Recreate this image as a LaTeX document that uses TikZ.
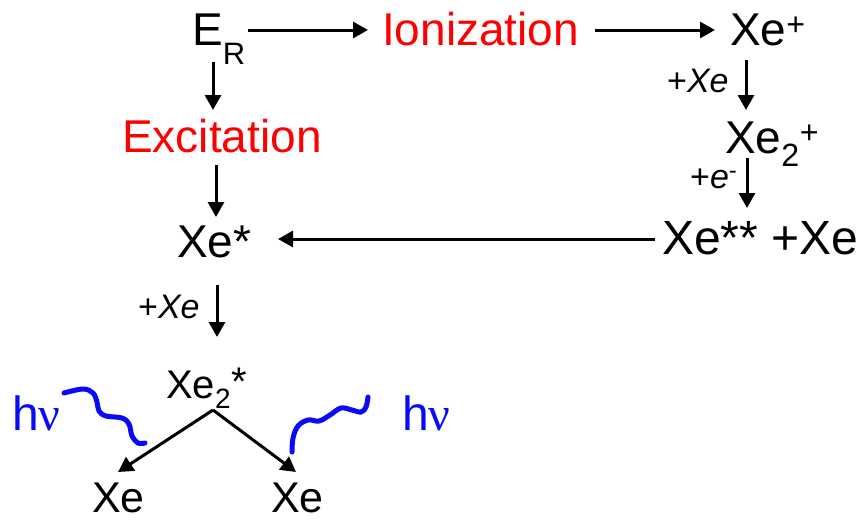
\documentclass[tikz,border=0pt]{standalone}
\usepackage{fontspec}
\setmainfont{Liberation Sans}
\newfontfamily\nufont{Liberation Serif}
\usetikzlibrary{arrows.meta,calc}
\definecolor{myred}{RGB}{255,0,0}
\definecolor{myblue}{RGB}{10,10,250}
\tikzset{
  txt/.style={inner sep=0pt, anchor=base west, font=\fontsize{46}{50}\selectfont},
  redtxt/.style={txt, text=myred},
  lbl/.style={inner sep=0pt, anchor=base west, font=\fontsize{34}{38}\selectfont},
  bot/.style={inner sep=0pt, anchor=base west, font=\fontsize{43}{47}\selectfont},
  photon/.style={inner sep=0pt, anchor=base west, text=myblue, font=\fontsize{48}{52}\selectfont},
  arr/.style={line width=3pt, -{Triangle[length=15pt,width=16pt]}},
  wave/.style={line width=5pt, draw=myblue, line cap=round}
}
\begin{document}
\begin{tikzpicture}[x=1pt,y=-1pt]
\useasboundingbox (0,0) rectangle (861,525);
% nodes
\node[txt] (ER) at (192,45) {E\raisebox{-19pt}{\fontsize{31}{31}\selectfont R}};
\node[redtxt] (ion) at (382,45) {Ionization};
\node[txt] (xep) at (730,45) {Xe\textsuperscript{+}};
\node[txt] (xe2p) at (725,153) {Xe\textsubscript{2}\textsuperscript{+}};
\node[txt, font=\fontsize{48}{52}\selectfont] (xess) at (662,254) {Xe** +Xe};
\node[redtxt] (exc) at (122,152) {Excitation};
\node[txt] (xes) at (177,257) {Xe*};
\node[lbl] (l1) at (667,92) {+\textit{Xe}};
\node[lbl] (l2) at (690,188) {+\textit{e}\textsuperscript{-}};
\node[lbl] (l3) at (138,318) {+\textit{Xe}};
\node[inner sep=0pt, anchor=base west, font=\fontsize{40}{44}\selectfont] (xe2s) at (166,398) {Xe\textsubscript{2}\raisebox{3pt}{*}};
\node[bot] (xeL) at (92,512) {Xe};
\node[bot] (xeR) at (271,512) {Xe};
\node[photon] (hvL) at (12,430) {h{\nufont ν}};
\node[photon] (hvR) at (402,430) {h{\nufont ν}};
% connectors
\draw[arr] ($(ER.base west)+(56,-15)$) -- ($(ion.base west)+(-14,-15)$);
\draw[arr] ($(ion.base west)+(213,-15)$) -- ($(xep.base west)+(-15,-15)$);
\draw[arr] ($(xep.base west)+(16,15)$) -- ($(xe2p.base west)+(21,-43)$);
\draw[arr] ($(xe2p.base west)+(22,5)$) -- ($(xess.base west)+(85,-46)$);
\draw[arr] ($(xess.base west)+(-7,-15)$) -- ($(xes.base west)+(101,-18)$);
\draw[arr] ($(ER.base west)+(21,17)$) -- ($(exc.base west)+(91,-42)$);
\draw[arr] ($(exc.base west)+(94,13)$) -- ($(xes.base west)+(39,-40)$);
\draw[arr] ($(xes.base west)+(40,28)$) -- ($(xe2s.base west)+(51,-61)$);
\coordinate (apex) at ($(xe2s.base west)+(47,12)$);
\draw[arr] (apex) -- ($(xeL.base west)+(26,-40)$);
\draw[arr] (apex) -- ($(xeR.base west)+(25,-40)$);
% photon waves
\draw[wave] plot[smooth, tension=0.6] coordinates {(64,393) (83,389) (93,393) (97,402) (99,411) (106,416) (122,418) (129,424) (132,436) (138,443) (145,443)};
\draw[wave] plot[smooth, tension=0.6] coordinates {(292,452) (293,438) (298,426) (308,420) (319,421) (330,415) (341,408) (352,410) (361,412) (366,407) (368,397)};
\end{tikzpicture}
\end{document}
